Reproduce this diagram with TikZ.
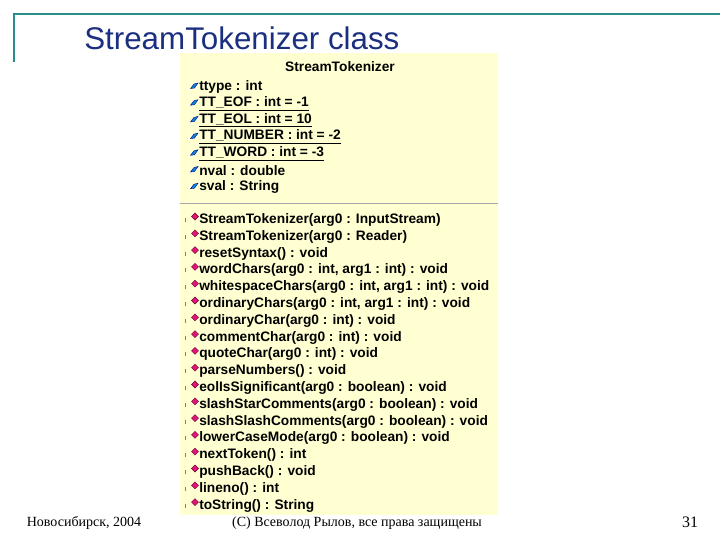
\documentclass[tikz,border=0pt]{standalone}
\usepackage{fontspec}
\setmainfont{Liberation Serif}
\setsansfont{Liberation Sans}
\begin{document}
\begin{tikzpicture}[x=0.75pt,y=-0.75pt,
  item/.style={anchor=west,font=\sffamily\bfseries\fontsize{10.3}{11}\selectfont,inner sep=0pt},
  attr/.style={fill=cyan!70!blue,draw=blue!60!black,line width=0.3pt},
  meth/.style={fill=magenta!70!purple,draw=purple!60!black,line width=0.3pt}]
\useasboundingbox (0,0) rectangle (720,540);
\definecolor{teal1}{HTML}{2A8C88}
\definecolor{tblue}{HTML}{1A2F80}
\definecolor{ybg}{HTML}{FFFFD2}
\draw[teal1,line width=2pt] (13,14) -- (720,14);
\draw[teal1,line width=2pt] (14,13) -- (14,62);
\node[anchor=west,text=tblue,font=\sffamily\fontsize{23.5}{26}\selectfont,inner sep=0pt] (title) at (84,38) {StreamTokenizer class};
\node[fill=ybg,draw=none,minimum width=318*0.75pt,minimum height=462*0.75pt,anchor=north west,inner sep=0pt] (box) at (180,53) {};
\node[font=\sffamily\bfseries\fontsize{10.3}{11}\selectfont,inner sep=0pt] (hdr) at (340,67) {StreamTokenizer};
\draw[gray!70,line width=0.6pt] (180,203) -- (498,203);
\foreach \t [count=\i] in {ttype : int,\underline{TT\_EOF : int = -1},\underline{TT\_EOL : int = 10},\underline{TT\_NUMBER : int = -2},\underline{TT\_WORD : int = -3},nval : double,sval : String}{
  \pgfmathsetmacro{\yy}{87+(\i-1)*16.7}
  \node[item] (a\i) at (199,\yy) {\t};
  \draw[attr] (190.5,\yy+1.5) -- (194,\yy-3) -- (198,\yy-4) -- (194.5,\yy+1) -- cycle;
}
\foreach \t [count=\i] in {StreamTokenizer(arg0 : InputStream),StreamTokenizer(arg0 : Reader),resetSyntax() : void,wordChars(arg0 : int{,} arg1 : int) : void,whitespaceChars(arg0 : int{,} arg1 : int) : void,ordinaryChars(arg0 : int{,} arg1 : int) : void,ordinaryChar(arg0 : int) : void,commentChar(arg0 : int) : void,quoteChar(arg0 : int) : void,parseNumbers() : void,eolIsSignificant(arg0 : boolean) : void,slashStarComments(arg0 : boolean) : void,slashSlashComments(arg0 : boolean) : void,lowerCaseMode(arg0 : boolean) : void,nextToken() : int,pushBack() : void,lineno() : int,toString() : String}{
  \pgfmathsetmacro{\yy}{220+(\i-1)*16.8}
  \node[item] (m\i) at (199,\yy) {\t};
  \draw[meth] (195,\yy-7) -- (198.5,\yy-3.5) -- (195,\yy) -- (191.5,\yy-3.5) -- cycle;
  \draw[gray,line width=0.5pt] (185,\yy-2) -- (185,\yy+2);
}
\node[font=\fontsize{10.5}{12}\selectfont,inner sep=0pt] (f1) at (84,523) {Новосибирск, 2004};
\node[font=\fontsize{10.5}{12}\selectfont,inner sep=0pt] (f2) at (357,523) {(С) Всеволод Рылов, все права защищены};
\node[font=\fontsize{12}{14}\selectfont,inner sep=0pt] (f3) at (690,522) {31};
\end{tikzpicture}
\end{document}
